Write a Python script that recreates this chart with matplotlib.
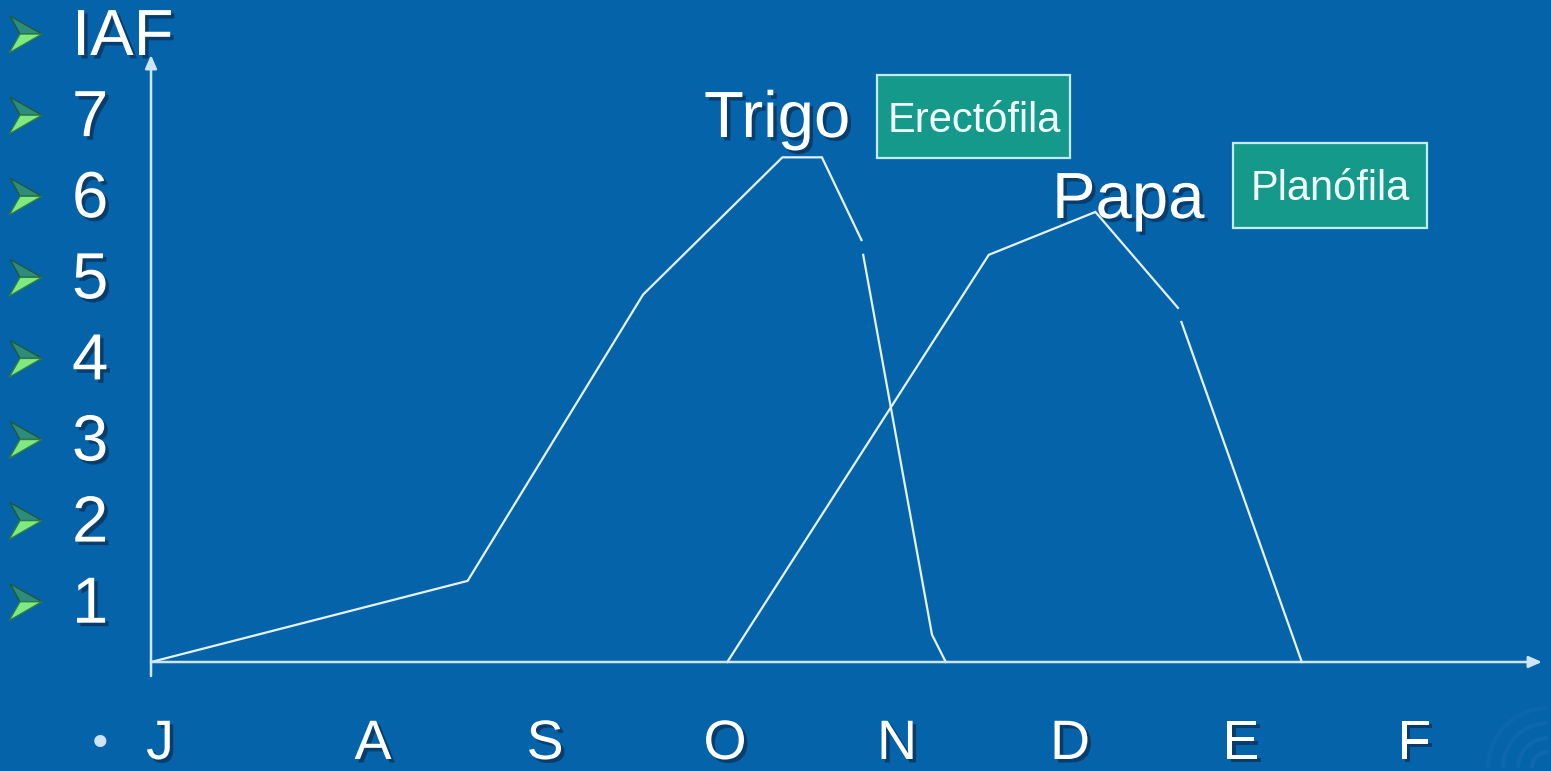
import numpy as np
import matplotlib
matplotlib.use("Agg")
import matplotlib.pyplot as plt
import matplotlib.patheffects as pe
from matplotlib.patches import Polygon, Rectangle, Arc

# ---------------- data ----------------
nan = np.nan
meses = ['J', 'A', 'S', 'O', 'N', 'D', 'E', 'F']
iaf_etiquetas = ['IAF', '7', '6', '5', '4', '3', '2', '1']

# x: months after July (A = 1), y: IAF (leaf area index)
trigo_mes = [-0.29, 1.55, 2.57, 3.38, 3.61, 3.84, nan, 3.85, 4.25, 4.33]
trigo_iaf = [0.00, 1.04, 4.71, 6.47, 6.47, 5.41, nan, 5.22, 0.35, 0.00]
papa_mes = [3.06, 4.58, 5.20, 5.68, nan, 5.70, 6.40]
papa_iaf = [0.00, 5.22, 5.77, 4.54, nan, 4.36, 0.00]

cultivos = ['Trigo', 'Papa']
hojas = ['Erectófila', 'Planófila']

# ---------------- figure ----------------
W, H = 1551, 771
BG = '#0563AA'
LINE = '#E6F3FF'
AXC = '#CFE6F8'

fig = plt.figure(figsize=(W / 100, H / 100), dpi=100)
fig.patch.set_facecolor(BG)
ax = fig.add_axes([0, 0, 1, 1])
ax.set_facecolor(BG)
ax.axis('off')

# pixel mapping of data: x_px = 201 + 172*m ; y_px = 662 - 78*v
ax.set_xlim((0 - 201) / 172, (W - 201) / 172)
ax.set_ylim((662 - H) / 78, 662 / 78)


def fx(px):
    return px / W


def fy(py):
    return 1 - py / H


shadow = [pe.SimplePatchShadow(offset=(2.5, -2.5), shadow_rgbFace='#0a1e3a', alpha=0.55), pe.Normal()]

# axes with arrows
x0 = (151 - 201) / 172
ax.annotate('', xy=((1542 - 201) / 172, 0), xytext=(x0, 0),
            arrowprops=dict(arrowstyle='-|>,head_length=0.8,head_width=0.35', color=AXC, lw=1.8,
                            shrinkA=0, shrinkB=0), annotation_clip=False)
ax.annotate('', xy=(x0, (662 - 55) / 78), xytext=(x0, (662 - 676) / 78),
            arrowprops=dict(arrowstyle='-|>,head_length=0.8,head_width=0.35', color=AXC, lw=1.8,
                            shrinkA=0, shrinkB=0), annotation_clip=False)

# curves
ax.plot(trigo_mes, trigo_iaf, color=LINE, lw=1.6, solid_joinstyle='miter')
ax.plot(papa_mes, papa_iaf, color=LINE, lw=1.6, solid_joinstyle='miter')

# left bullet list
font = 'Liberation Sans'
base0 = 55
step = 81.1
for i, lab in enumerate(iaf_etiquetas):
    b = base0 + step * i
    fig.text(fx(72), fy(b), lab, fontsize=47, family=font, color='white',
             ha='left', va='baseline', path_effects=shadow)
    pts_up = [(10, b - 39), (42, b - 21), (20, b - 21)]
    pts_lo = [(20, b - 21), (42, b - 21), (9, b - 2)]
    fig.patches.append(Polygon([(fx(x), fy(y)) for x, y in pts_up], closed=True,
                               facecolor='#2E8C7A', edgecolor='#1E5A3A', lw=1.0,
                               transform=fig.transFigure))
    fig.patches.append(Polygon([(fx(x), fy(y)) for x, y in pts_lo], closed=True,
                               facecolor='#7FEA80', edgecolor='#2F7A45', lw=1.0,
                               transform=fig.transFigure))

# month labels
mes_px = [160, 373, 545, 725, 897, 1070, 1241, 1414]
for m, px in zip(meses, mes_px):
    fig.text(fx(px), fy(759), m, fontsize=40, family=font, color='white',
             ha='center', va='baseline', path_effects=shadow)
fig.text(fx(100), fy(745), '\u2022', fontsize=30, family='DejaVu Sans', color='#CFE3F5',
         ha='center', va='center')

# crop labels
fig.text(fx(704), fy(137), cultivos[0], fontsize=47, family=font, color='white',
         ha='left', va='baseline', path_effects=shadow)
fig.text(fx(1052), fy(218), cultivos[1], fontsize=47, family=font, color='white',
         ha='left', va='baseline', path_effects=shadow)

# leaf type boxes
boxes = [(877, 75, 1070, 158, 974, 132), (1233, 143, 1427, 228, 1330, 200)]
for (l, t, r, btm, cx, bl), txt in zip(boxes, hojas):
    fig.patches.append(Rectangle((fx(l), fy(btm)), fx(r) - fx(l), fy(t) - fy(btm),
                                 facecolor='#14998A', edgecolor='#C4ECEF', lw=1.6,
                                 transform=fig.transFigure))
    fig.text(fx(cx), fy(bl), txt, fontsize=30, family=font, color='#F2FFFF',
             ha='center', va='baseline')

# faint logo swirl bottom-right
for r, a in [(60, 0.05), (45, 0.06), (30, 0.07), (16, 0.08)]:
    fig.patches.append(Arc((fx(1548), fy(768)), 2 * r / W, 2 * r / H, theta1=90, theta2=180,
                           color='#7FB8E8', lw=3, alpha=a, transform=fig.transFigure))

fig.savefig('out.png', dpi=100, facecolor=BG)
